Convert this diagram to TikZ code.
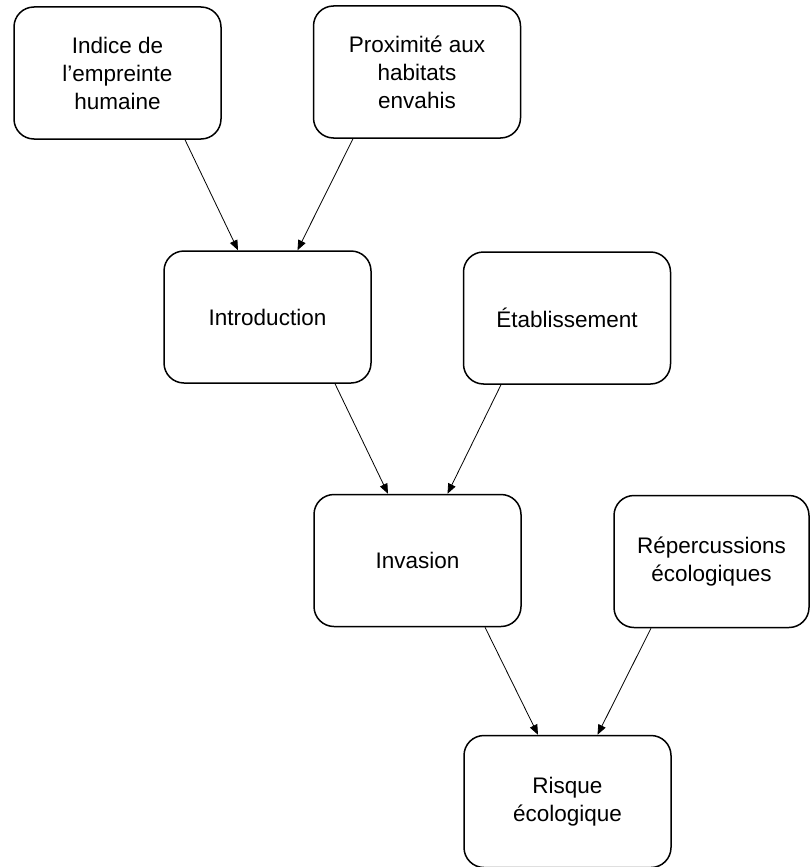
\documentclass[tikz,border=0pt]{standalone}
\usepackage{fontspec}
\setmainfont{Liberation Sans}
\usepackage{tikz}
\usetikzlibrary{positioning,arrows.meta}
\tikzset{>={Triangle[width=8pt,length=10pt]}}
\tikzset{etape/.style={draw, line width=1.5pt, rounded corners=20pt, minimum width=207pt, minimum height=132pt, align=center, font=\fontsize{22.5}{28}\selectfont}}
\tikzset{fleche/.style={->, line width=0.8pt}}

\begin{document}
\begin{tikzpicture}[x=1pt, y=-1pt]
			\useasboundingbox (0,0) rectangle (809,867);
			\node[etape] (indice) at (117.5,73) {Indice de\\l’empreinte\\humaine};
			\node[etape] (proxi) at (417,72) {Proximité aux\\habitats\\envahis};
			\node[etape] (intro) at (267.5,317) {Introduction};
			\node[etape] (etab) at (567,318) {Établissement};
			\node[etape] (invasion) at (417.5,560.5) {Invasion};
			\node[etape, minimum width=195pt] (reperc) at (711.5,561.5) {Répercussions\\écologiques};
			\node[etape] (risque) at (567.5,801.5) {Risque\\écologique};
			\draw[fleche] ([xshift=67.5pt]indice.south) -- ([xshift=-29.5pt]intro.north);
			\draw[fleche] ([xshift=-64pt]proxi.south) -- ([xshift=30pt]intro.north);
			\draw[fleche] ([xshift=67.5pt]intro.south) -- ([xshift=-29.5pt]invasion.north);
			\draw[fleche] ([xshift=-66pt]etab.south) -- ([xshift=30pt]invasion.north);
			\draw[fleche] ([xshift=67.5pt]invasion.south) -- ([xshift=-29.5pt]risque.north);
			\draw[fleche] ([xshift=-60.5pt]reperc.south) -- ([xshift=30pt]risque.north);
	\end{tikzpicture}
\end{document}
